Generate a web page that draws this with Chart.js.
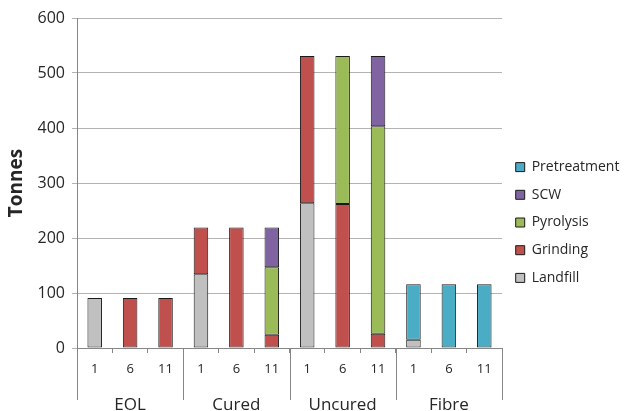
<!DOCTYPE html>
<html>
<head>
<meta charset="utf-8">
<script src="https://cdn.jsdelivr.net/npm/chart.js@4/dist/chart.umd.min.js"></script>
<style>
  html, body { margin: 0; padding: 0; background: #fff; }
</style>
</head>
<body>
<canvas id="chart" width="624" height="411"></canvas>
<script>
const GROUPS = ['EOL', 'Cured', 'Uncured', 'Fibre'];
const YEARS = ['1', '6', '11'];
const Y_TICKS = [0, 100, 200, 300, 400, 500, 600];

// tonnes per route, 12 bars = 4 groups x 3 years
const landfill     = [91, null, null, 134, null, null, 263, null, null, 15, null, null];
const grinding     = [null, 91, 91, 85, 219, 24, 268, 262, 26, null, null, null];
const pyrolysis    = [null, null, null, null, null, 123, null, 269, 377, null, null, null];
const scw          = [null, null, null, null, null, 72, null, null, 128, null, null, null];
const pretreatment = [null, null, null, null, null, null, null, null, null, 101, 116, 116];

const FONT = '"Open Sans", "DejaVu Sans", sans-serif';
const TEXT = '#262626';
const AXIS = '#868686';
const GRID = '#b3b3b3';

const labels = GROUPS.flatMap(() => YEARS);

const SERIES = [
  { label: 'Landfill',     data: landfill,     color: '#c0c0c0' },
  { label: 'Grinding',     data: grinding,     color: '#c0504d' },
  { label: 'Pyrolysis',    data: pyrolysis,    color: '#9bbb59' },
  { label: 'SCW',          data: scw,          color: '#8064a2' },
  { label: 'Pretreatment', data: pretreatment, color: '#4bacc6' },
];

// group separators + group names under the year ticks
const groupAxis = {
  id: 'groupAxis',
  afterDraw(chart) {
    const { ctx, scales: { x } } = chart;
    const per = YEARS.length;
    const step = x.getPixelForValue(1) - x.getPixelForValue(0);
    ctx.save();
    ctx.strokeStyle = AXIS;
    ctx.lineWidth = 1;
    for (let g = 0; g <= GROUPS.length; g++) {
      const px = Math.round(x.getPixelForValue(g * per) - step / 2) + 0.5;
      ctx.beginPath();
      ctx.moveTo(px, x.top);
      ctx.lineTo(px, x.top + 52);
      ctx.stroke();
    }
    ctx.fillStyle = TEXT;
    ctx.font = '17px ' + FONT;
    ctx.textAlign = 'center';
    ctx.textBaseline = 'alphabetic';
    GROUPS.forEach((g, i) => {
      const cx = (x.getPixelForValue(i * per) + x.getPixelForValue(i * per + per - 1)) / 2;
      ctx.fillText(g, cx, x.top + 62);
    });
    ctx.restore();
  }
};

// push legend down a bit, like the original
const legendShift = {
  id: 'legendShift',
  afterLayout(chart) {
    const l = chart.legend;
    l.top += 8;
    l.bottom += 8;
  }
};

new Chart(document.getElementById('chart'), {
  type: 'bar',
  data: {
    labels,
    datasets: SERIES.map(s => ({
      label: s.label,
      data: s.data,
      backgroundColor: s.color,
      borderColor: '#1a1a1a',
      borderWidth: 1,
      borderSkipped: false,
      categoryPercentage: 1,
      barPercentage: 0.41,
    })),
  },
  options: {
    responsive: false,
    animation: false,
    devicePixelRatio: 1,
    layout: { padding: { top: 18, right: 0, bottom: 0, left: 0 } },
    scales: {
      x: {
        stacked: true,
        afterFit: s => { s.height = 63; },
        grid: { offset: true, drawOnChartArea: false, tickLength: 5, color: AXIS },
        border: { color: AXIS },
        ticks: { color: TEXT, font: { family: FONT, size: 13 }, padding: 8, maxRotation: 0 },
      },
      y: {
        stacked: true,
        min: 0,
        max: 600,
        afterFit: s => { s.width = 77; },
        afterBuildTicks: s => { s.ticks = Y_TICKS.map(v => ({ value: v })); },
        grid: { color: GRID, tickLength: 5 },
        border: { color: AXIS },
        ticks: { color: TEXT, font: { family: FONT, size: 16 }, padding: 7 },
        title: {
          display: true,
          text: 'Tonnes',
          color: TEXT,
          font: { family: FONT, size: 19, weight: 'bold' },
          padding: { top: 5, bottom: 0 },
        },
      },
    },
    plugins: {
      legend: {
        position: 'right',
        reverse: true,
        maxWidth: 122,
        labels: {
          boxWidth: 9,
          boxHeight: 9,
          padding: 13.7,
          color: TEXT,
          font: { family: FONT, size: 14 },
          useBorderRadius: false,
        },
      },
      tooltip: { enabled: false },
    },
  },
  plugins: [groupAxis, legendShift],
});
</script>
</body>
</html>
